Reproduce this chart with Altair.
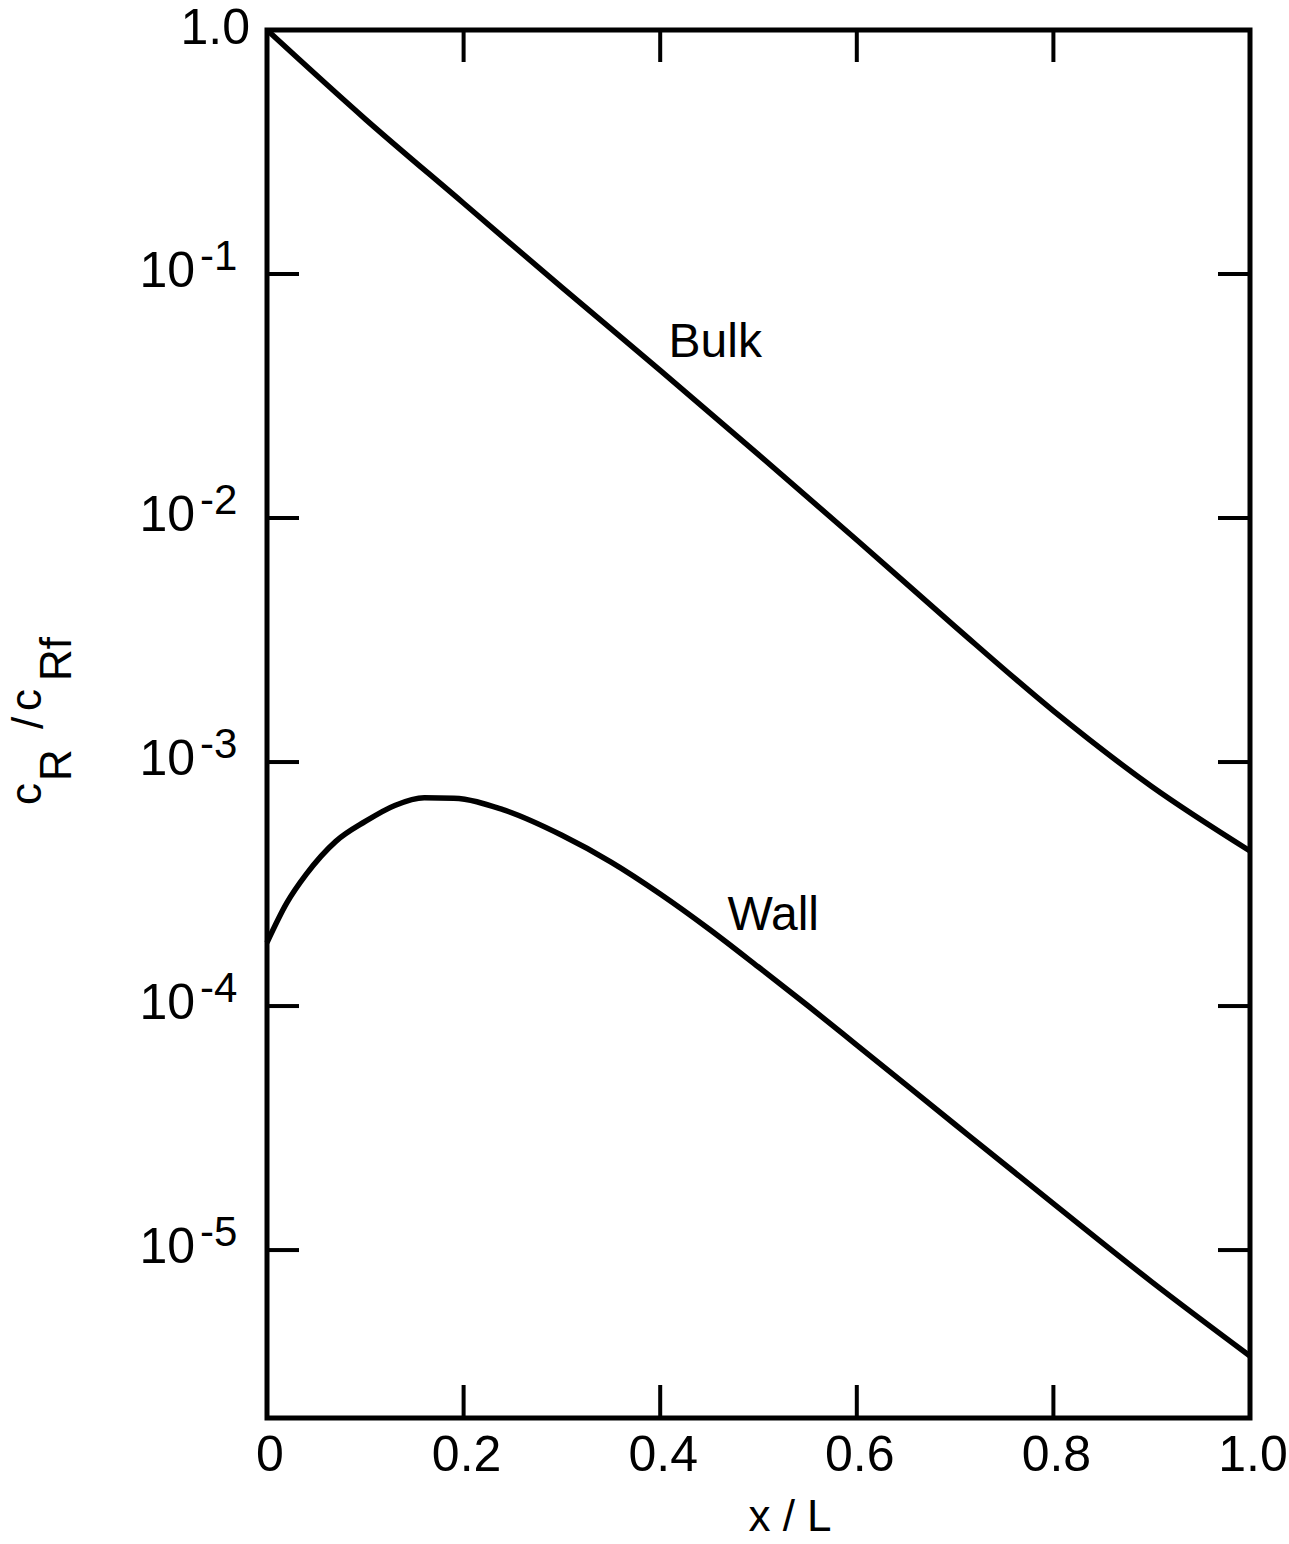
import altair as alt
import pandas as pd

# ---- data ----
x_bulk = [0.0, 0.1, 0.2, 0.3, 0.4, 0.5, 0.6, 0.7, 0.8, 0.9, 1.0]
y_bulk = [1.0, 0.4315, 0.195, 0.0881, 0.0403, 0.0182, 0.00813, 0.00359, 0.00162, 0.000794, 0.000432]

x_wall = [0.0, 0.02, 0.04, 0.07, 0.1, 0.13, 0.16, 0.19, 0.24, 0.3, 0.35, 0.4, 0.45, 0.5,
          0.55, 0.6, 0.7, 0.8, 0.9, 1.0]
y_wall = [1.82e-4, 2.64e-4, 3.47e-4, 4.73e-4, 5.71e-4, 6.64e-4, 7.14e-4, 7.11e-4, 6.38e-4, 5.01e-4,
          3.89e-4, 2.88e-4, 2.065e-4, 1.445e-4, 1.005e-4, 6.92e-5, 3.27e-5, 1.55e-5, 7.41e-6, 3.68e-6]

y_tick_values = [1e-1, 1e-2, 1e-3, 1e-4, 1e-5]
y_label_base = ["10", "10", "10", "10", "10"]
y_label_exp = ["-1", "-2", "-3", "-4", "-5"]
y_top_value = [1.0]
y_top_label = ["1.0"]

x_tick_values = [0.2, 0.4, 0.6, 0.8]
x_label_values = [0.0, 0.2, 0.4, 0.6, 0.8, 1.0]
x_label_text = ["0", "0.2", "0.4", "0.6", "0.8", "1.0"]

curve_label_text = ["Bulk", "Wall"]
curve_label_x = [0.456, 0.515]
curve_label_y = [0.0521, 2.34e-4]

y_domain = [2.05e-6, 1.0]
x_domain = [0.0, 1.0]

# ---- build tables ----
df_lines = pd.concat([
    pd.DataFrame({"x": x_bulk, "y": y_bulk, "series": "Bulk"}),
    pd.DataFrame({"x": x_wall, "y": y_wall, "series": "Wall"}),
])
df_yt = pd.DataFrame({"v": y_tick_values, "base": y_label_base, "exp": y_label_exp})
df_ytop = pd.DataFrame({"v": y_top_value, "t": y_top_label})
df_xt = pd.DataFrame({"v": x_tick_values})
df_xl = pd.DataFrame({"v": x_label_values, "t": x_label_text})
df_cl = pd.DataFrame({"x": curve_label_x, "y": curve_label_y, "t": curve_label_text})

W, H = 983, 1388
F = "Liberation Sans"
xs = alt.Scale(domain=x_domain, nice=False, zero=False)
ys = alt.Scale(type="log", domain=y_domain, nice=False)

X = lambda f: alt.X(f, scale=xs, axis=None)
Y = lambda f: alt.Y(f, scale=ys, axis=None)

lines = alt.Chart(df_lines).mark_line(color="black", strokeWidth=5.5, interpolate="monotone").encode(
    x=X("x:Q"), y=Y("y:Q"), detail="series:N")

tl = alt.Chart(df_yt).mark_rule(color="black", strokeWidth=4).encode(
    y=Y("v:Q"), x=alt.value(0), x2=alt.value(32))
tr = alt.Chart(df_yt).mark_rule(color="black", strokeWidth=4).encode(
    y=Y("v:Q"), x=alt.value(W - 32), x2=alt.value(W))
tb = alt.Chart(df_xt).mark_rule(color="black", strokeWidth=4).encode(
    x=X("v:Q"), y=alt.value(H - 33), y2=alt.value(H))
tt = alt.Chart(df_xt).mark_rule(color="black", strokeWidth=4).encode(
    x=X("v:Q"), y=alt.value(0), y2=alt.value(32))

ybase = alt.Chart(df_yt).mark_text(font=F, fontSize=50, align="right", baseline="middle", dy=-2, color="black").encode(
    y=Y("v:Q"), x=alt.value(-72), text="base:N")
yexp = alt.Chart(df_yt).mark_text(font=F, fontSize=42, align="left", baseline="middle", dy=-17, color="black").encode(
    y=Y("v:Q"), x=alt.value(-67), text="exp:N")
ytop = alt.Chart(df_ytop).mark_text(font=F, fontSize=50, align="right", baseline="middle", dy=-1, color="black").encode(
    y=Y("v:Q"), x=alt.value(-17), text="t:N")

xlab = alt.Chart(df_xl).mark_text(font=F, fontSize=50, align="center", baseline="middle", dx=3, color="black").encode(
    x=X("v:Q"), y=alt.value(H + 38), text="t:N")

xtitle = alt.Chart(pd.DataFrame({"t": ["x / L"]})).mark_text(
    font=F, fontSize=44, align="center", baseline="middle", color="black").encode(
    text="t:N", x=alt.value(523), y=alt.value(1488))

def ypiece(txt, x, y):
    return alt.Chart(pd.DataFrame({"t": [txt]})).mark_text(
        font=F, fontSize=44, align="center", baseline="middle", angle=270, color="black").encode(
        text="t:N", x=alt.value(x), y=alt.value(y))

ytitle = [ypiece("c", -239, 764), ypiece("R", -209, 735), ypiece("/", -237, 693),
          ypiece("c", -239, 670), ypiece("Rf", -209, 629)]

clab = alt.Chart(df_cl).mark_text(font=F, fontSize=48, align="center", baseline="middle", color="black").encode(
    x=X("x:Q"), y=Y("y:Q"), text="t:N")

chart = alt.layer(lines, tl, tr, tb, tt, ybase, yexp, ytop, xlab, xtitle, clab, *ytitle).properties(
    width=W, height=H,
    padding={"left": 267, "top": 30, "right": 39, "bottom": 126},
    autosize=alt.AutoSizeParams(type="none"),
    background="white",
).configure_view(stroke="black", strokeWidth=5)

chart.save("out.html", embed_options={"renderer": "svg", "actions": False})
